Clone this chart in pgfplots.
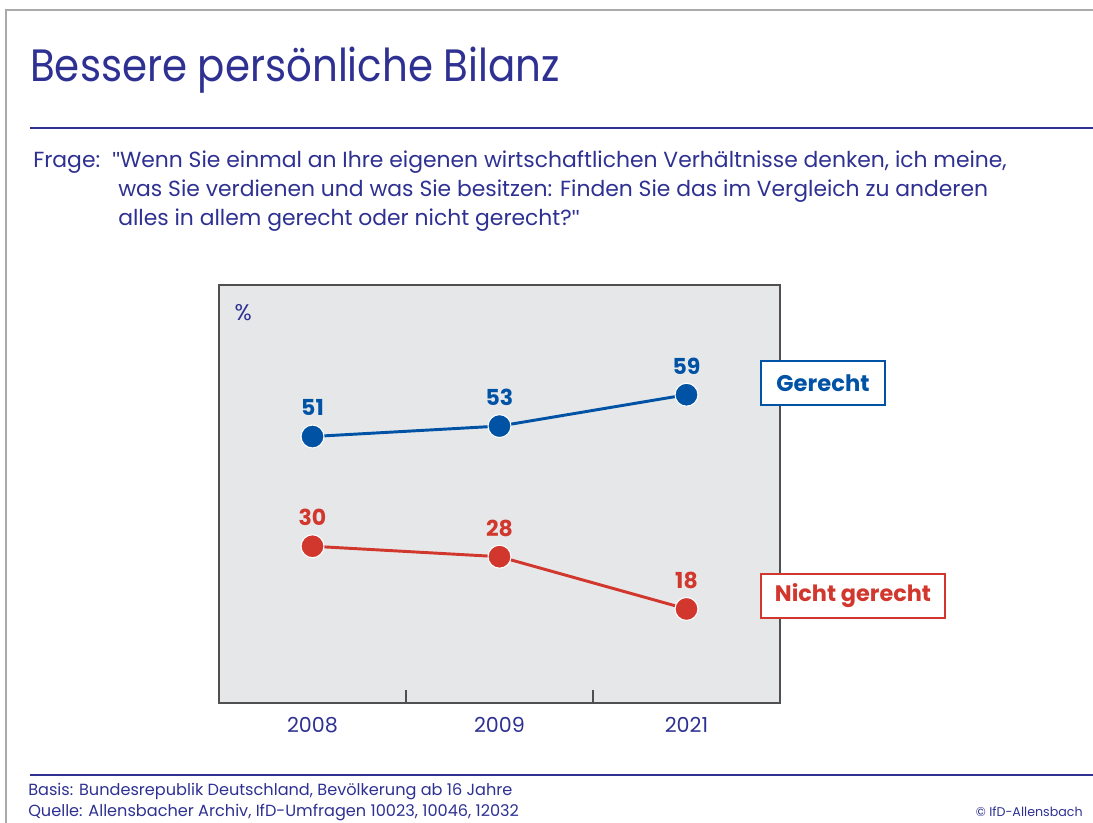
\documentclass[border=0pt]{standalone}
\usepackage{fontspec}
\setmainfont{Poppins}
\newfontfamily\titlefont{Poppins}[FakeStretch=0.89]
\newfontfamily\qfont{Liberation Sans}
\newcommand{\sq}{{\qfont\char34}}
\usepackage{pgfplots}
\pgfplotsset{compat=1.18}
\definecolor{tblue}{RGB}{46,49,146}
\definecolor{gblue}{RGB}{0,82,165}
\definecolor{nred}{RGB}{210,55,45}
\definecolor{bggray}{RGB}{230,231,233}
\definecolor{axgray}{RGB}{80,80,80}
\definecolor{frgray}{RGB}{170,170,170}
\begin{document}
\begin{tikzpicture}[x=0.75pt,y=0.75pt]
\useasboundingbox (0,0) rectangle (1093,823);
% outer frame
\draw[frgray, line width=1.2pt] (6,0) -- (6,813) -- (1100,813);
% title
\node[anchor=base west, inner sep=0, font=\titlefont\fontsize{34}{40}\selectfont, text=tblue] at (30,741) {Bessere persönliche Bilanz};
\draw[tblue, line width=0.9pt] (30,695) -- (1100,695);
% question
\begin{scope}[every node/.style={anchor=base west, inner sep=0, font=\fontsize{16.4}{19}\selectfont, text=tblue}]
\node at (33,655) {Frage:};
\node at (112,655) {\sq Wenn Sie einmal an Ihre eigenen wirtschaftlichen Verhältnisse denken, ich meine,};
\node at (118,626) {was Sie verdienen und was Sie besitzen: Finden Sie das im Vergleich zu anderen};
\node at (118,597) {alles in allem gerecht oder nicht gerecht?\sq};
\end{scope}
% footer
\draw[tblue, line width=0.9pt] (30,48) -- (1100,48);
\begin{scope}[every node/.style={inner sep=0, font=\fontsize{12.1}{14}\selectfont, text=tblue}]
\node[anchor=base west] at (28,27.5) {Basis: Bundesrepublik Deutschland, Bevölkerung ab 16 Jahre};
\node[anchor=base west] at (28,6.5) {Quelle: Allensbacher Archiv, IfD-Umfragen 10023, 10046, 12032};
\node[anchor=base east, font=\fontsize{9.5}{11}\selectfont] at (1083,6.5) {© IfD-Allensbach};
\end{scope}
\coordinate (axsw) at (219,120);
\begin{axis}[
  at={(axsw)}, anchor=south west,
  scale only axis, width=420.75pt, height=313.5pt,
  xmin=-0.5, xmax=2.5, ymin=0, ymax=80,
  axis background/.style={fill=bggray},
  axis line style={draw=axgray, line width=1.0pt},
  xtick={0,1,2}, xticklabels={2008,2009,2021},
  ytick=\empty,
  major tick length=0pt,
  tick pos=left,
  extra x ticks={0.5,1.5},
  extra x tick labels={},
  extra x tick style={major tick length=9.5pt, tick align=inside, tick style={draw=axgray, line width=0.8pt}},
  xticklabel style={anchor=base, yshift=-22.5pt, font=\fontsize{15.5}{18}\selectfont, text=tblue},
  /pgf/number format/assume math mode=true,
  clip=false,
  nodes near coords,
  nodes near coords style={anchor=base, yshift=15.5pt, font=\fontsize{16.5}{20}\selectfont\bfseries},
]
\addplot[gblue, line width=2.2pt, mark=*, mark size=8.6pt,
  mark options={fill=gblue, draw=white, line width=0.8pt},
  nodes near coords style={text=gblue}]
  coordinates {(0,51) (1,53) (2,59)};
\addplot[nred, line width=2.2pt, mark=*, mark size=8.6pt,
  mark options={fill=nred, draw=white, line width=0.8pt},
  nodes near coords style={text=nred}]
  coordinates {(0,30) (1,28) (2,18)};
\node[anchor=center, text=tblue, font=\fontsize{17}{20}\selectfont] at (rel axis cs:0.043,0.935) {\%};
\end{axis}
% legend boxes
\node[draw=gblue, line width=1.1pt, fill=white, minimum width=93pt, minimum height=33pt, inner sep=0, text=gblue, font=\fontsize{17}{20}\selectfont\bfseries] at (823,440) {Gerecht};
\node[draw=nred, line width=1.1pt, fill=white, minimum width=138pt, minimum height=33pt, inner sep=0, text=nred, font=\fontsize{16.8}{20}\selectfont\bfseries] at (853,227) {Nicht gerecht};
\end{tikzpicture}
\end{document}
